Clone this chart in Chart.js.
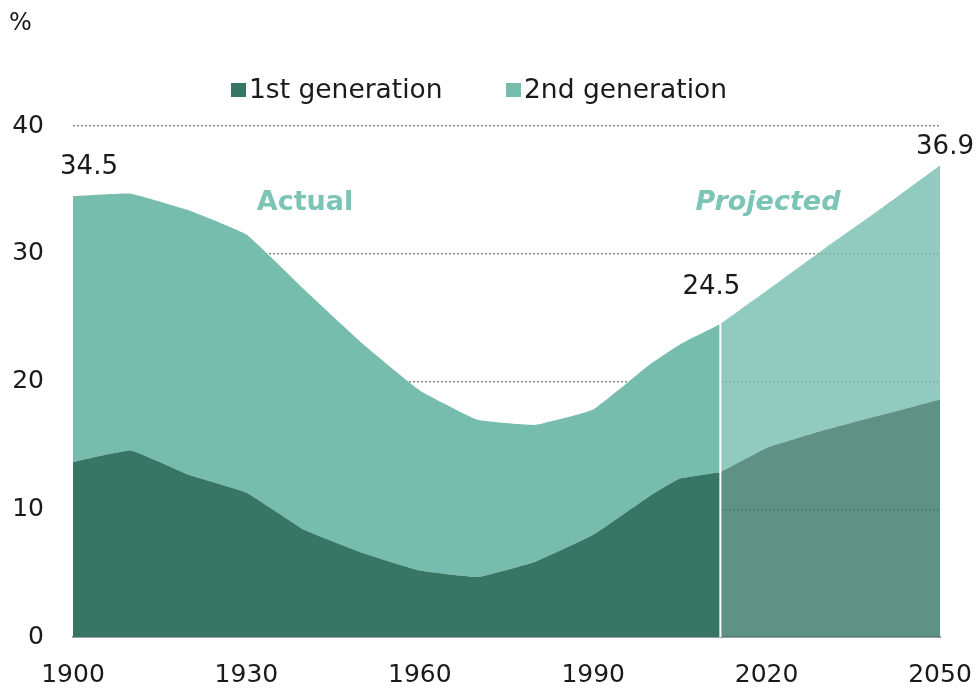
<!DOCTYPE html>
<html>
<head>
<meta charset="utf-8">
<script src="https://cdn.jsdelivr.net/npm/chart.js@4/dist/chart.umd.min.js"></script>
<style>
html,body{margin:0;padding:0;background:#fff;}
#wrap{width:977px;height:688px;position:relative;}
</style>
</head>
<body>
<div id="wrap"><canvas id="c" width="977" height="688"></canvas></div>
<script>
// ---- data ----
const actualYears   = [1900,1910,1920,1930,1940,1950,1960,1970,1980,1990,2000,2005,2012];
const actualFirst   = [13.7,14.6,12.7,11.3,8.4,6.6,5.2,4.7,5.9,8.0,11.1,12.4,12.9];
const actualSecond  = [20.8,20.1,20.7,20.2,18.8,16.4,14.1,12.3,10.7,9.8,10.3,10.5,11.6];
const projYears     = [2012,2020,2030,2040,2050];
const projFirst     = [12.9,14.8,16.2,17.4,18.6];
const projSecond    = [11.6,12.3,14.2,16.2,18.3];
const yTicks        = [0,10,20,30,40];
const xTicks        = [1900,1930,1960,1990,2020,2050];
const seriesNames   = ['1st generation','2nd generation'];
const valueLabels   = [{x:1900,y:34.5,text:'34.5'},{x:2012,y:24.5,text:'24.5'},{x:2050,y:36.9,text:'36.9'}];

const C1 = '#377565', C2 = '#76bdae';
const C1p = 'rgba(55,117,101,0.8)', C2p = 'rgba(118,189,174,0.8)';
const FONT = '"DejaVu Sans", Verdana, sans-serif';

function pts(xs, ys){ return xs.map((x,i)=>({x:x,y:ys[i]})); }

const common = {borderWidth:0, pointRadius:0, pointHoverRadius:0, tension:0.1};

const overlay = {
  id:'overlay',
  afterDatasetsDraw(chart){
    const {ctx, scales:{x,y}} = chart;
    ctx.save();
    // divider line at 2012
    const xd = x.getPixelForValue(2012);
    ctx.strokeStyle = '#ffffff'; ctx.lineWidth = 2;
    ctx.beginPath(); ctx.moveTo(xd, y.getPixelForValue(0)); ctx.lineTo(xd, y.getPixelForValue(24.5)); ctx.stroke();
    // value labels
    ctx.fillStyle = '#1a1a1a';
    ctx.font = '26px ' + FONT;
    ctx.textAlign = 'center'; ctx.textBaseline = 'middle';
    const offs = [[16,-29],[-9,-37],[5,-18]];
    valueLabels.forEach((v,i)=>{
      ctx.fillText(v.text, x.getPixelForValue(v.x)+offs[i][0], y.getPixelForValue(v.y)+offs[i][1]);
    });
    // Actual / Projected
    ctx.fillStyle = '#7cc4b6';
    ctx.font = 'bold 27px ' + FONT;
    ctx.fillText('Actual', 305, 203);
    ctx.font = 'italic bold 27px ' + FONT;
    ctx.fillText('Projected', 768, 203);
    // % unit
    ctx.fillStyle = '#1a1a1a';
    ctx.font = '24px ' + FONT;
    ctx.textAlign = 'left';
    ctx.fillText('%', 9, 24);
    // legend
    ctx.font = '26.5px ' + FONT;
    ctx.textBaseline = 'middle';
    const items = [{c:C1,t:seriesNames[0],x:231},{c:C2,t:seriesNames[1],x:506}];
    items.forEach(it=>{
      ctx.fillStyle = it.c;
      ctx.fillRect(it.x, 83, 15, 14);
      ctx.fillStyle = '#1a1a1a';
      ctx.fillText(it.t, it.x+18, 91);
    });
    ctx.restore();
  }
};

new Chart(document.getElementById('c'), {
  type:'line',
  data:{
    datasets:[
      Object.assign({label:seriesNames[0], data:pts(actualYears,actualFirst), backgroundColor:C1, fill:'origin', stack:'a'}, common),
      Object.assign({label:seriesNames[1], data:pts(actualYears,actualSecond), backgroundColor:C2, fill:'-1', stack:'a'}, common),
      Object.assign({label:seriesNames[0]+' (projected)', data:pts(projYears,projFirst), backgroundColor:C1p, fill:'origin', stack:'p'}, common),
      Object.assign({label:seriesNames[1]+' (projected)', data:pts(projYears,projSecond), backgroundColor:C2p, fill:'-1', stack:'p'}, common)
    ]
  },
  options:{
    responsive:false, animation:false, events:[],
    layout:{padding:{left:0,right:37,top:126,bottom:0}},
    plugins:{legend:{display:false}, tooltip:{enabled:false}},
    scales:{
      x:{
        type:'linear', min:1900, max:2050,
        afterBuildTicks(s){ s.ticks = xTicks.map(v=>({value:v})); },
        afterFit(s){ s.height = 51; s.paddingLeft = 0; s.paddingRight = 0; },
        grid:{display:false, drawTicks:false},
        border:{display:true, color:'#a0a0a0', width:2},
        ticks:{font:{size:25, family:FONT}, color:'#1a1a1a', padding:23, maxRotation:0, autoSkip:false,
               callback:(v)=>String(v)}
      },
      y:{
        stacked:true, min:0, max:40,
        afterBuildTicks(s){ s.ticks = yTicks.map(v=>({value:v})); },
        afterFit(s){ s.width = 73; s.paddingTop = 0; s.paddingBottom = 0; },
        grid:{color:'#8a8a8a', lineWidth:1.5, drawTicks:false},
        border:{display:false, dash:[2,2]},
        ticks:{font:{size:25, family:FONT}, color:'#1a1a1a', padding:29, callback:(v)=>String(v)}
      }
    }
  },
  plugins:[overlay]
});
</script>
</body>
</html>
